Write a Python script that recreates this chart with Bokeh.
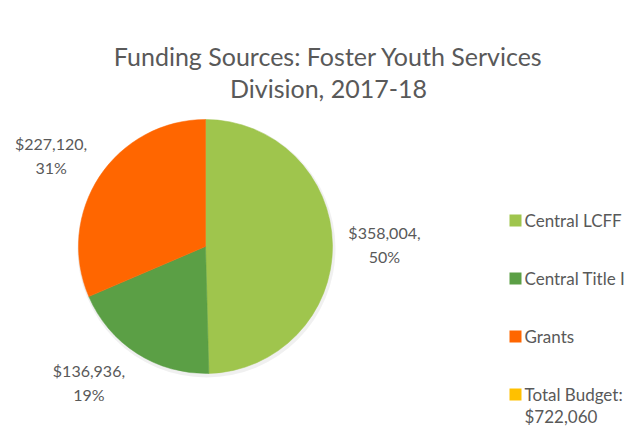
import numpy as np
from bokeh.plotting import figure
from bokeh.models import Range1d, ColumnDataSource
from bokeh.core.properties import value
from bokeh.embed import file_html
from bokeh.resources import INLINE

# ---- data ----
title_lines = ["Funding Sources: Foster Youth Services", "Division, 2017-18"]
categories = ["Central LCFF", "Central Title I", "Grants", "Total Budget:\n$722,060"]
amounts = [358004, 136936, 227120, 0]
colors = ["#9FC54D", "#5B9F45", "#FF6600", "#FFC000"]

# ---- layout ----
W, H = 624, 428
FONT = "Lato"
TXT = "#595959"


def Y(screen_y):
    return H - screen_y


cx, cy, R = 205, Y(246), 127

p = figure(width=W, height=H, x_range=Range1d(0, W), y_range=Range1d(0, H),
           output_backend="svg", toolbar_location=None, min_border=0)
p.axis.visible = False
p.grid.visible = False
p.outline_line_color = None
p.background_fill_color = "white"
p.border_fill_color = "white"

vals = np.array(amounts, dtype=float)
total = vals.sum()
frac = vals / total
cum = np.concatenate([[0], np.cumsum(frac)])
start = np.pi / 2 - 2 * np.pi * cum[:-1]
end = np.pi / 2 - 2 * np.pi * cum[1:]
mid = (start + end) / 2
mask = vals > 0

# faint shadow
p.circle(x=cx + 1, y=cy - 2, radius=R + 2, fill_color="#000000", fill_alpha=0.06, line_color=None)

wcolors = [c for c, m in zip(colors, mask) if m]
src = ColumnDataSource(dict(start=start[mask], end=end[mask], color=wcolors))
p.wedge(x=cx, y=cy, radius=R, start_angle="start", end_angle="end", direction="clock",
        fill_color="color", line_color="color", line_width=0.5, source=src)

# data labels (Excel best-fit nudges)
lab_r = 179
nudge_deg = np.array([0.0, -8.0, 3.0, 0.0])
ang = mid + np.radians(nudge_deg)
lx = cx + lab_r * np.cos(ang[mask])
ly = cy + lab_r * np.sin(ang[mask])
amt_txt = [f"${int(v):,}," for v in vals[mask]]
pct_txt = [f"{round(f * 100):.0f}%" for f in frac[mask]]
for txt, dy in ((amt_txt, 12), (pct_txt, -12)):
    p.text(x=lx, y=ly + dy, text=txt, text_font=value(FONT), text_font_size="16px",
           text_color=TXT, text_align="center", text_baseline="middle")

# title
p.text(x=[328, 328], y=[Y(55), Y(87)], text=title_lines, text_font=value(FONT),
       text_font_size="25px", text_color=TXT, text_align="center", text_baseline="alphabetic")

# legend
row_y = Y(220) - 58 * np.arange(len(categories))
p.rect(x=515, y=row_y, width=12, height=12, fill_color=colors, line_color=None)
tx, ty, tt = [], [], []
for c, ry in zip(categories, row_y):
    for j, ln in enumerate(c.split("\n")):
        tx.append(524)
        ty.append(ry - 22 * j)
        tt.append(ln)
p.text(x=tx, y=ty, text=tt, text_font=value(FONT), text_font_size="17px",
       text_color=TXT, text_align="left", text_baseline="middle")

open("out.html", "w").write(file_html(p, INLINE))
